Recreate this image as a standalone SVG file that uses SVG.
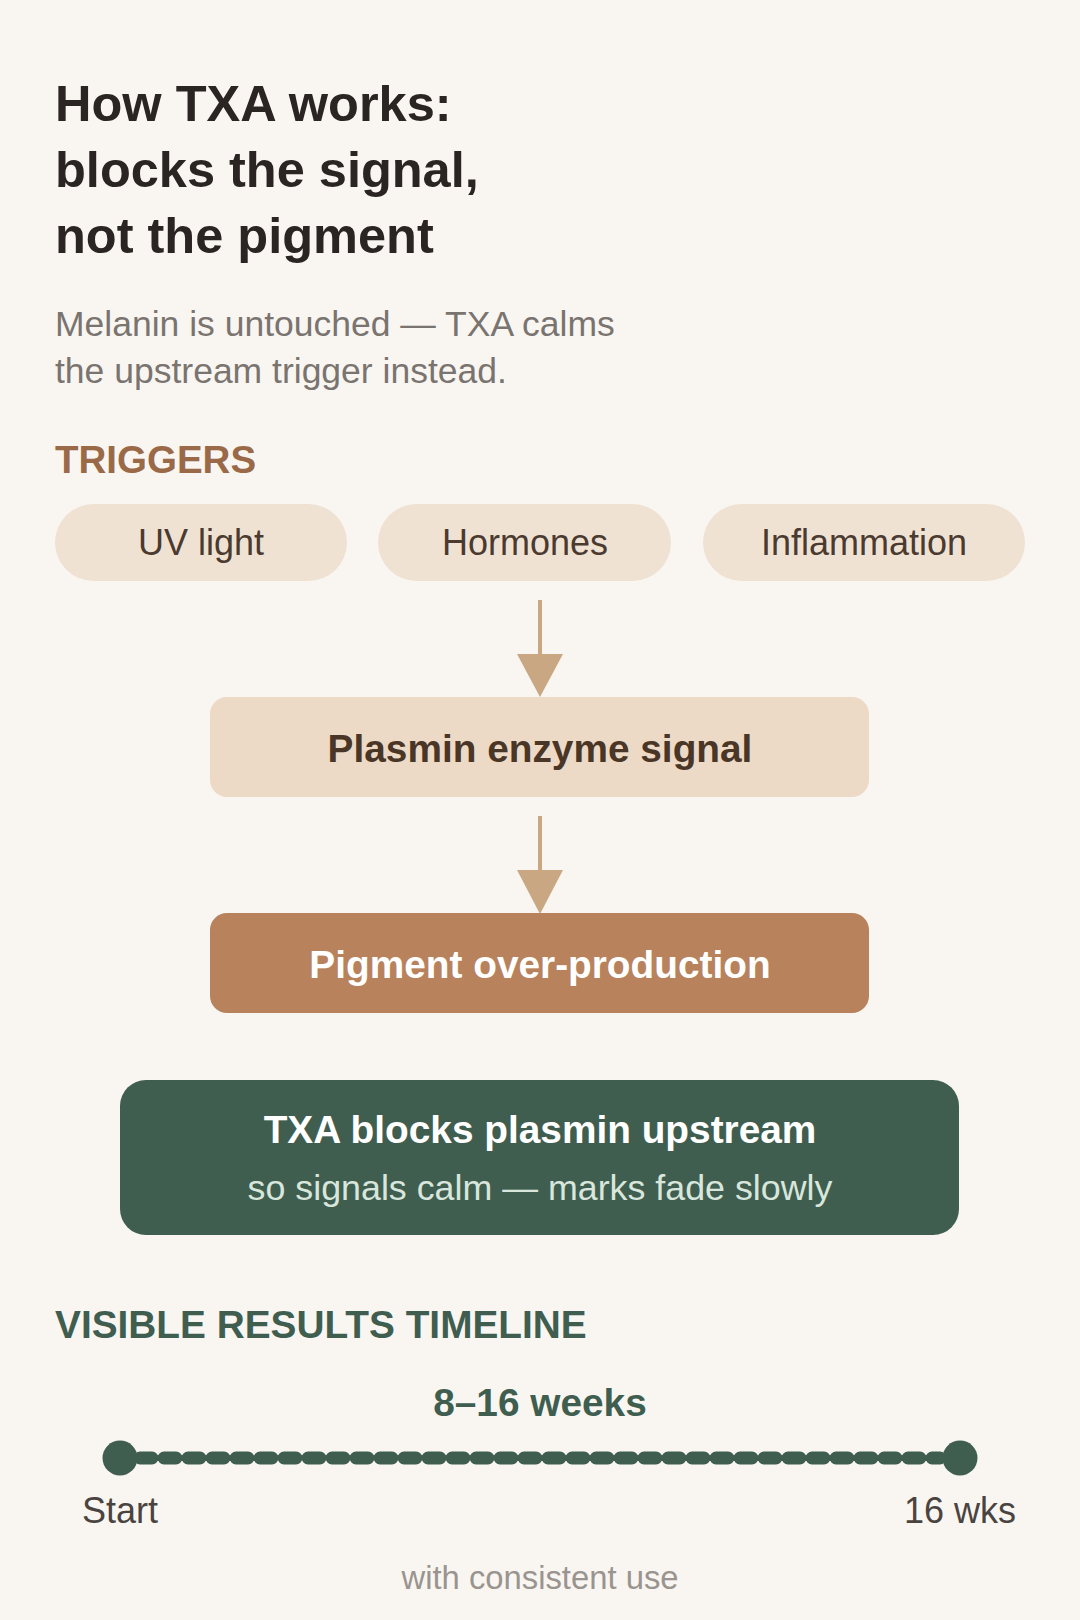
<svg xmlns="http://www.w3.org/2000/svg" width="1080" height="1620" viewBox="0 0 1080 1620">
<style>
text{font-family:"Liberation Sans",Arial,sans-serif}
.t{font-size:50.5px;font-weight:bold;fill:#2a2522}
.s{font-size:35.5px;fill:#7a7470}
.pill{fill:#f0e2d3}
.pt{font-size:36px;fill:#4a3a30;text-anchor:middle}
</style>
<rect width="1080" height="1620" fill="#f9f6f1"/>
<text class="t" x="55" y="121">How TXA works:</text>
<text class="t" x="55" y="187">blocks the signal,</text>
<text class="t" x="55" y="253">not the pigment</text>
<text class="s" x="55" y="336">Melanin is untouched — TXA calms</text>
<text class="s" x="55" y="383">the upstream trigger instead.</text>
<text x="55" y="473" font-size="38.5" font-weight="bold" fill="#9a6a48">TRIGGERS</text>
<g id="uv"><rect class="pill" x="55" y="504" width="292" height="77" rx="38.5"/><text class="pt" x="201" y="555">UV light</text></g>
<g id="hormones"><rect class="pill" x="378" y="504" width="293" height="77" rx="38.5"/><text class="pt" x="525" y="555">Hormones</text></g>
<g id="inflammation"><rect class="pill" x="703" y="504" width="322" height="77" rx="38.5"/><text class="pt" x="864" y="555">Inflammation</text></g>
<g id="connectors">
<line x1="540" y1="600" x2="540" y2="658" stroke="#c9a782" stroke-width="4"/>
<polygon points="517,654 563,654 540,697" fill="#c9a782"/>
<line x1="540" y1="816" x2="540" y2="873" stroke="#c9a782" stroke-width="4"/>
<polygon points="517,870 563,870 540,914" fill="#c9a782"/>
</g>
<g id="plasmin"><rect x="210" y="697" width="659" height="100" rx="17" fill="#eddac6"/><text x="540" y="762" font-size="38.8" font-weight="bold" fill="#4a3626" text-anchor="middle">Plasmin enzyme signal</text></g>
<g id="pigment"><rect x="210" y="913" width="659" height="100" rx="17" fill="#b8825c"/><text x="540" y="978" font-size="38.8" font-weight="bold" fill="#ffffff" text-anchor="middle">Pigment over-production</text></g>
<g id="txa"><rect x="120" y="1080" width="839" height="155" rx="26" fill="#3f5e50"/>
<text x="540" y="1143" font-size="38.8" font-weight="bold" fill="#ffffff" text-anchor="middle">TXA blocks plasmin upstream</text>
<text x="540" y="1200" font-size="35.8" fill="#d9e6dc" text-anchor="middle">so signals calm — marks fade slowly</text></g>
<text x="55" y="1338" font-size="38.8" font-weight="bold" fill="#3f5e50">VISIBLE RESULTS TIMELINE</text>
<g id="timeline">
<text x="540" y="1416" font-size="38.8" font-weight="bold" fill="#3f5e50" text-anchor="middle">8–16 weeks</text>
<line x1="140" y1="1458" x2="940" y2="1458" stroke="#3f5e50" stroke-width="13" stroke-linecap="round" stroke-dasharray="12 12"/>
<circle cx="120" cy="1458" r="17.5" fill="#3f5e50"/>
<circle cx="960" cy="1458" r="17.5" fill="#3f5e50"/>
<text x="120" y="1523" font-size="36" fill="#4a4440" text-anchor="middle">Start</text>
<text x="960" y="1523" font-size="36" fill="#4a4440" text-anchor="middle">16 wks</text>
</g>
<text x="540" y="1589" font-size="32.8" fill="#9a9490" text-anchor="middle">with consistent use</text>
</svg>
